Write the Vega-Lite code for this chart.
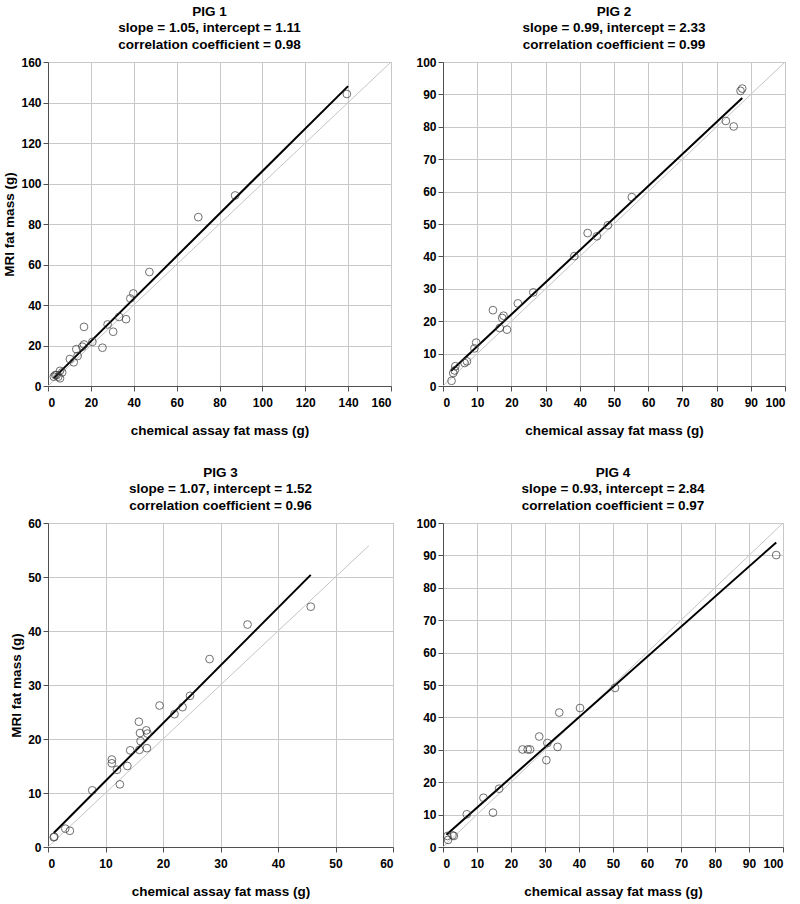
{
  "$schema": "https://vega.github.io/schema/vega-lite/v6.json",
  "padding": {"left": 2, "top": 4, "right": 3, "bottom": 3},
  "background": "white",
  "config": {
    "font": "Liberation Sans",
    "view": {"stroke": "#a8a8a8", "strokeWidth": 1},
    "axis": {"grid": true, "gridColor": "#c8c8c8", "gridWidth": 1, "domainColor": "#505050", "tickColor": "#505050", "tickSize": 5, "labelFont": "Liberation Sans", "labelFontWeight": "bold", "labelFontSize": 12, "labelColor": "#000", "titleFont": "Liberation Sans", "titleFontWeight": "bold", "titleFontSize": 13.5, "titleColor": "#000", "minExtent": 0},
    "axisX": {"labelPadding": 6, "titlePadding": 15},
    "axisY": {"labelPadding": 2, "titlePadding": 4},
    "title": {"font": "Liberation Sans", "fontSize": 13.5, "fontWeight": "bold", "lineHeight": 16.5, "color": "#000", "offset": 5}
  },
  "datasets": {
    "lines": [
      {"pig": "PIG 1", "kind": "identity", "x": 0, "y": 0, "x2": 160, "y2": 160},
      {"pig": "PIG 1", "kind": "fit", "x": 2.7, "y": 3.9, "x2": 140, "y2": 148.1},
      {"pig": "PIG 2", "kind": "identity", "x": 0, "y": 0, "x2": 100, "y2": 100},
      {"pig": "PIG 2", "kind": "fit", "x": 2.4, "y": 4.7, "x2": 87.5, "y2": 88.9},
      {"pig": "PIG 3", "kind": "identity", "x": 0, "y": 0, "x2": 55.8, "y2": 55.8},
      {"pig": "PIG 3", "kind": "fit", "x": 1.0, "y": 2.6, "x2": 45.7, "y2": 50.4},
      {"pig": "PIG 4", "kind": "identity", "x": 0, "y": 0, "x2": 100, "y2": 100},
      {"pig": "PIG 4", "kind": "fit", "x": 1.0, "y": 3.8, "x2": 98, "y2": 94.0}
    ],
    "points": [
      {"pig": "PIG 1", "x": 2.7, "y": 4.6}, {"pig": "PIG 1", "x": 3.4, "y": 5.4}, {"pig": "PIG 1", "x": 4.0, "y": 5.4},
      {"pig": "PIG 1", "x": 4.8, "y": 4.6}, {"pig": "PIG 1", "x": 5.6, "y": 3.8}, {"pig": "PIG 1", "x": 5.6, "y": 7.5},
      {"pig": "PIG 1", "x": 6.6, "y": 6.7}, {"pig": "PIG 1", "x": 10.2, "y": 13.3}, {"pig": "PIG 1", "x": 12.0, "y": 11.7},
      {"pig": "PIG 1", "x": 13.2, "y": 18.2}, {"pig": "PIG 1", "x": 13.8, "y": 14.8}, {"pig": "PIG 1", "x": 16.0, "y": 19.4},
      {"pig": "PIG 1", "x": 16.8, "y": 20.5}, {"pig": "PIG 1", "x": 16.8, "y": 29.2}, {"pig": "PIG 1", "x": 20.7, "y": 21.8},
      {"pig": "PIG 1", "x": 25.4, "y": 18.9}, {"pig": "PIG 1", "x": 27.8, "y": 30.4}, {"pig": "PIG 1", "x": 30.4, "y": 26.8},
      {"pig": "PIG 1", "x": 33.2, "y": 34.1}, {"pig": "PIG 1", "x": 36.4, "y": 33.0}, {"pig": "PIG 1", "x": 38.4, "y": 43.2},
      {"pig": "PIG 1", "x": 39.8, "y": 45.7}, {"pig": "PIG 1", "x": 47.3, "y": 56.3}, {"pig": "PIG 1", "x": 70.1, "y": 83.4},
      {"pig": "PIG 1", "x": 87.3, "y": 94.1}, {"pig": "PIG 1", "x": 139.4, "y": 144.2},
      {"pig": "PIG 2", "x": 2.5, "y": 1.6}, {"pig": "PIG 2", "x": 3.0, "y": 4.0}, {"pig": "PIG 2", "x": 3.4, "y": 4.8},
      {"pig": "PIG 2", "x": 3.6, "y": 6.1}, {"pig": "PIG 2", "x": 6.3, "y": 7.1}, {"pig": "PIG 2", "x": 7.0, "y": 7.6},
      {"pig": "PIG 2", "x": 9.2, "y": 11.6}, {"pig": "PIG 2", "x": 9.7, "y": 13.4}, {"pig": "PIG 2", "x": 14.6, "y": 23.4},
      {"pig": "PIG 2", "x": 16.6, "y": 17.9}, {"pig": "PIG 2", "x": 17.3, "y": 21.0}, {"pig": "PIG 2", "x": 17.7, "y": 21.7},
      {"pig": "PIG 2", "x": 18.7, "y": 17.4}, {"pig": "PIG 2", "x": 21.9, "y": 25.5}, {"pig": "PIG 2", "x": 26.4, "y": 28.9},
      {"pig": "PIG 2", "x": 38.4, "y": 40.1}, {"pig": "PIG 2", "x": 42.3, "y": 47.2}, {"pig": "PIG 2", "x": 45.0, "y": 46.2},
      {"pig": "PIG 2", "x": 48.2, "y": 49.6}, {"pig": "PIG 2", "x": 55.2, "y": 58.3}, {"pig": "PIG 2", "x": 82.7, "y": 81.8},
      {"pig": "PIG 2", "x": 85.0, "y": 80.1}, {"pig": "PIG 2", "x": 87.0, "y": 91.1}, {"pig": "PIG 2", "x": 87.5, "y": 91.8},
      {"pig": "PIG 3", "x": 1.0, "y": 1.8}, {"pig": "PIG 3", "x": 1.1, "y": 1.9}, {"pig": "PIG 3", "x": 3.0, "y": 3.4},
      {"pig": "PIG 3", "x": 3.8, "y": 3.0}, {"pig": "PIG 3", "x": 7.7, "y": 10.5}, {"pig": "PIG 3", "x": 11.1, "y": 16.2},
      {"pig": "PIG 3", "x": 11.1, "y": 15.5}, {"pig": "PIG 3", "x": 12.0, "y": 14.3}, {"pig": "PIG 3", "x": 12.5, "y": 11.6},
      {"pig": "PIG 3", "x": 13.8, "y": 15.0}, {"pig": "PIG 3", "x": 14.3, "y": 17.9}, {"pig": "PIG 3", "x": 15.9, "y": 18.0},
      {"pig": "PIG 3", "x": 15.8, "y": 23.2}, {"pig": "PIG 3", "x": 16.0, "y": 21.1}, {"pig": "PIG 3", "x": 16.1, "y": 19.6},
      {"pig": "PIG 3", "x": 17.1, "y": 21.6}, {"pig": "PIG 3", "x": 17.3, "y": 21.0}, {"pig": "PIG 3", "x": 17.2, "y": 18.3},
      {"pig": "PIG 3", "x": 19.4, "y": 26.2}, {"pig": "PIG 3", "x": 22.0, "y": 24.6}, {"pig": "PIG 3", "x": 23.4, "y": 25.9},
      {"pig": "PIG 3", "x": 24.7, "y": 28.0}, {"pig": "PIG 3", "x": 28.1, "y": 34.8}, {"pig": "PIG 3", "x": 34.7, "y": 41.2},
      {"pig": "PIG 3", "x": 45.7, "y": 44.5},
      {"pig": "PIG 4", "x": 1.3, "y": 3.4}, {"pig": "PIG 4", "x": 1.5, "y": 2.2}, {"pig": "PIG 4", "x": 2.8, "y": 3.6},
      {"pig": "PIG 4", "x": 3.2, "y": 3.4}, {"pig": "PIG 4", "x": 7.0, "y": 10.1}, {"pig": "PIG 4", "x": 11.9, "y": 15.2},
      {"pig": "PIG 4", "x": 14.7, "y": 10.6}, {"pig": "PIG 4", "x": 16.5, "y": 18.0}, {"pig": "PIG 4", "x": 23.4, "y": 30.1},
      {"pig": "PIG 4", "x": 24.9, "y": 30.1}, {"pig": "PIG 4", "x": 25.6, "y": 30.1}, {"pig": "PIG 4", "x": 28.3, "y": 34.1},
      {"pig": "PIG 4", "x": 30.4, "y": 26.8}, {"pig": "PIG 4", "x": 30.7, "y": 32.1}, {"pig": "PIG 4", "x": 33.7, "y": 30.9},
      {"pig": "PIG 4", "x": 34.2, "y": 41.5}, {"pig": "PIG 4", "x": 40.3, "y": 42.9}, {"pig": "PIG 4", "x": 50.6, "y": 49.1},
      {"pig": "PIG 4", "x": 98.0, "y": 90.1}
    ]
  },
  "columns": 2,
  "align": "none",
  "spacing": {"row": 28, "column": 21},
  "concat": [
    {
      "width": 343, "height": 324,
      "title": {"text": ["PIG 1", "slope = 1.05, intercept = 1.11", "correlation coefficient = 0.98"], "dx": -10},
      "encoding": {
        "x": {"field": "x", "type": "quantitative", "scale": {"domain": [0, 160], "nice": false}, "axis": {"values": [0, 20, 40, 60, 80, 100, 120, 140, 160], "title": "chemical assay fat mass (g)"}},
        "y": {"field": "y", "type": "quantitative", "scale": {"domain": [0, 160], "nice": false}, "axis": {"values": [0, 20, 40, 60, 80, 100, 120, 140, 160], "title": "MRI fat mass (g)"}}
      },
      "layer": [
        {"data": {"name": "lines"}, "transform": [{"filter": "datum.pig === 'PIG 1'"}], "mark": {"type": "rule"},
         "encoding": {"x2": {"field": "x2"}, "y2": {"field": "y2"},
           "color": {"field": "kind", "type": "nominal", "scale": {"domain": ["identity", "fit"], "range": ["#c4c4c4", "#000000"]}, "legend": null},
           "strokeWidth": {"field": "kind", "type": "nominal", "scale": {"domain": ["identity", "fit"], "range": [1, 2]}, "legend": null}}},
        {"data": {"name": "points"}, "transform": [{"filter": "datum.pig === 'PIG 1'"}], "mark": {"type": "point", "shape": "circle", "filled": false, "color": "#333333", "size": 60, "strokeWidth": 1}}
      ]
    },
    {
      "width": 342, "height": 324,
      "title": {"text": ["PIG 2", "slope = 0.99, intercept = 2.33", "correlation coefficient = 0.99"]},
      "encoding": {
        "x": {"field": "x", "type": "quantitative", "scale": {"domain": [0, 100], "nice": false}, "axis": {"values": [0, 10, 20, 30, 40, 50, 60, 70, 80, 90, 100], "title": "chemical assay fat mass (g)"}},
        "y": {"field": "y", "type": "quantitative", "scale": {"domain": [0, 100], "nice": false}, "axis": {"values": [0, 10, 20, 30, 40, 50, 60, 70, 80, 90, 100], "title": null}}
      },
      "layer": [
        {"data": {"name": "lines"}, "transform": [{"filter": "datum.pig === 'PIG 2'"}], "mark": {"type": "rule"},
         "encoding": {"x2": {"field": "x2"}, "y2": {"field": "y2"},
           "color": {"field": "kind", "type": "nominal", "scale": {"domain": ["identity", "fit"], "range": ["#c4c4c4", "#000000"]}, "legend": null},
           "strokeWidth": {"field": "kind", "type": "nominal", "scale": {"domain": ["identity", "fit"], "range": [1, 2]}, "legend": null}}},
        {"data": {"name": "points"}, "transform": [{"filter": "datum.pig === 'PIG 2'"}], "mark": {"type": "point", "shape": "circle", "filled": false, "color": "#333333", "size": 60, "strokeWidth": 1}}
      ]
    },
    {
      "width": 345, "height": 324,
      "title": {"text": ["PIG 3", "slope = 1.07, intercept = 1.52", "correlation coefficient = 0.96"]},
      "encoding": {
        "x": {"field": "x", "type": "quantitative", "scale": {"domain": [0, 60], "nice": false}, "axis": {"values": [0, 10, 20, 30, 40, 50, 60], "title": "chemical assay fat mass (g)"}},
        "y": {"field": "y", "type": "quantitative", "scale": {"domain": [0, 60], "nice": false}, "axis": {"values": [0, 10, 20, 30, 40, 50, 60], "title": "MRI fat mass (g)"}}
      },
      "layer": [
        {"data": {"name": "lines"}, "transform": [{"filter": "datum.pig === 'PIG 3'"}], "mark": {"type": "rule"},
         "encoding": {"x2": {"field": "x2"}, "y2": {"field": "y2"},
           "color": {"field": "kind", "type": "nominal", "scale": {"domain": ["identity", "fit"], "range": ["#c4c4c4", "#000000"]}, "legend": null},
           "strokeWidth": {"field": "kind", "type": "nominal", "scale": {"domain": ["identity", "fit"], "range": [1, 2]}, "legend": null}}},
        {"data": {"name": "points"}, "transform": [{"filter": "datum.pig === 'PIG 3'"}], "mark": {"type": "point", "shape": "circle", "filled": false, "color": "#333333", "size": 60, "strokeWidth": 1}}
      ]
    },
    {
      "width": 340, "height": 324,
      "title": {"text": ["PIG 4", "slope = 0.93, intercept = 2.84", "correlation coefficient = 0.97"]},
      "encoding": {
        "x": {"field": "x", "type": "quantitative", "scale": {"domain": [0, 100], "nice": false}, "axis": {"values": [0, 10, 20, 30, 40, 50, 60, 70, 80, 90, 100], "title": "chemical assay fat mass (g)"}},
        "y": {"field": "y", "type": "quantitative", "scale": {"domain": [0, 100], "nice": false}, "axis": {"values": [0, 10, 20, 30, 40, 50, 60, 70, 80, 90, 100], "title": null}}
      },
      "layer": [
        {"data": {"name": "lines"}, "transform": [{"filter": "datum.pig === 'PIG 4'"}], "mark": {"type": "rule"},
         "encoding": {"x2": {"field": "x2"}, "y2": {"field": "y2"},
           "color": {"field": "kind", "type": "nominal", "scale": {"domain": ["identity", "fit"], "range": ["#c4c4c4", "#000000"]}, "legend": null},
           "strokeWidth": {"field": "kind", "type": "nominal", "scale": {"domain": ["identity", "fit"], "range": [1, 2]}, "legend": null}}},
        {"data": {"name": "points"}, "transform": [{"filter": "datum.pig === 'PIG 4'"}], "mark": {"type": "point", "shape": "circle", "filled": false, "color": "#333333", "size": 60, "strokeWidth": 1}}
      ]
    }
  ]
}
